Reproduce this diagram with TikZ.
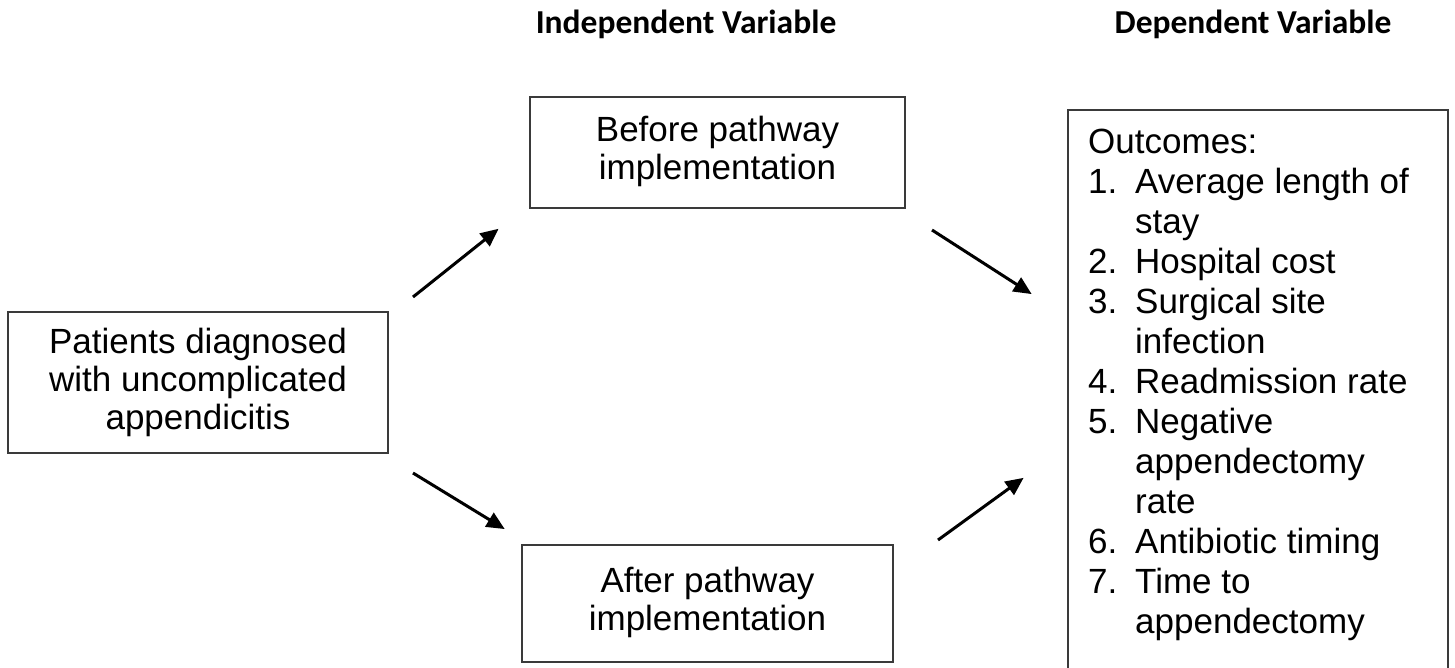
\documentclass[tikz,border=0pt]{standalone}
\usepackage{fontspec}
\setmainfont{Liberation Sans}
\newfontfamily\headfont{Carlito}
\usetikzlibrary{arrows.meta}
\definecolor{boxline}{HTML}{3A3A3A}
\newcommand{\itm}[1]{\makebox[47pt][l]{#1}}
\begin{document}
\begin{tikzpicture}[x=1pt,y=-1pt,
  box/.style={draw=boxline, line width=2pt, inner sep=0pt, align=center,
    font=\fontsize{35}{38}\selectfont},
  head/.style={font=\headfont\bfseries\fontsize{33.5}{36}\selectfont, anchor=base, inner sep=0pt},
  conn/.style={line width=3pt, -{Triangle[length=18pt,width=16pt]}, shorten >=-2pt}
]
\useasboundingbox[fill=white] (0,0) rectangle (1455,667);

\node[head] (hind) at (686,33) {Independent Variable};
\node[head] (hdep) at (1253,33) {Dependent Variable};

\node[box, minimum width=380pt, minimum height=141pt] (pat) at (198,382.5)
  {Patients diagnosed\\with uncomplicated\\appendicitis};
\node[box, minimum width=375pt, minimum height=111pt] (bef) at (717.5,152.5)
  {\raisebox{4pt}{\begin{tabular}{@{}c@{}}Before pathway\\implementation\end{tabular}}};
\node[box, minimum width=371pt, minimum height=117pt] (aft) at (707.5,603.5)
  {\raisebox{4pt}{\begin{tabular}{@{}c@{}}After pathway\\implementation\end{tabular}}};

\draw[boxline, line width=2pt] (1068,672) |- (1448,110) -- (1448,672);
\node[anchor=base west, inner sep=0pt] (out) at (1088,153)
  {\parbox[t]{345pt}{\raggedright\fontsize{35}{40}\selectfont
   Outcomes:\\
   \itm{1.}Average length of\\
   \itm{}stay\\
   \itm{2.}Hospital cost\\
   \itm{3.}Surgical site\\
   \itm{}infection\\
   \itm{4.}Readmission rate\\
   \itm{5.}Negative\\
   \itm{}appendectomy\\
   \itm{}rate\\
   \itm{6.}Antibiotic timing\\
   \itm{7.}Time to\\
   \itm{}appendectomy}};

\coordinate (a1s) at (413,297); \coordinate (a1e) at (497,230);
\coordinate (a2s) at (932,230); \coordinate (a2e) at (1030,293);
\coordinate (a3s) at (413,473); \coordinate (a3e) at (503,528);
\coordinate (a4s) at (938,540); \coordinate (a4e) at (1022,479);
\draw[conn] (a1s) -- (a1e);
\draw[conn] (a2s) -- (a2e);
\draw[conn] (a3s) -- (a3e);
\draw[conn] (a4s) -- (a4e);
\end{tikzpicture}
\end{document}
